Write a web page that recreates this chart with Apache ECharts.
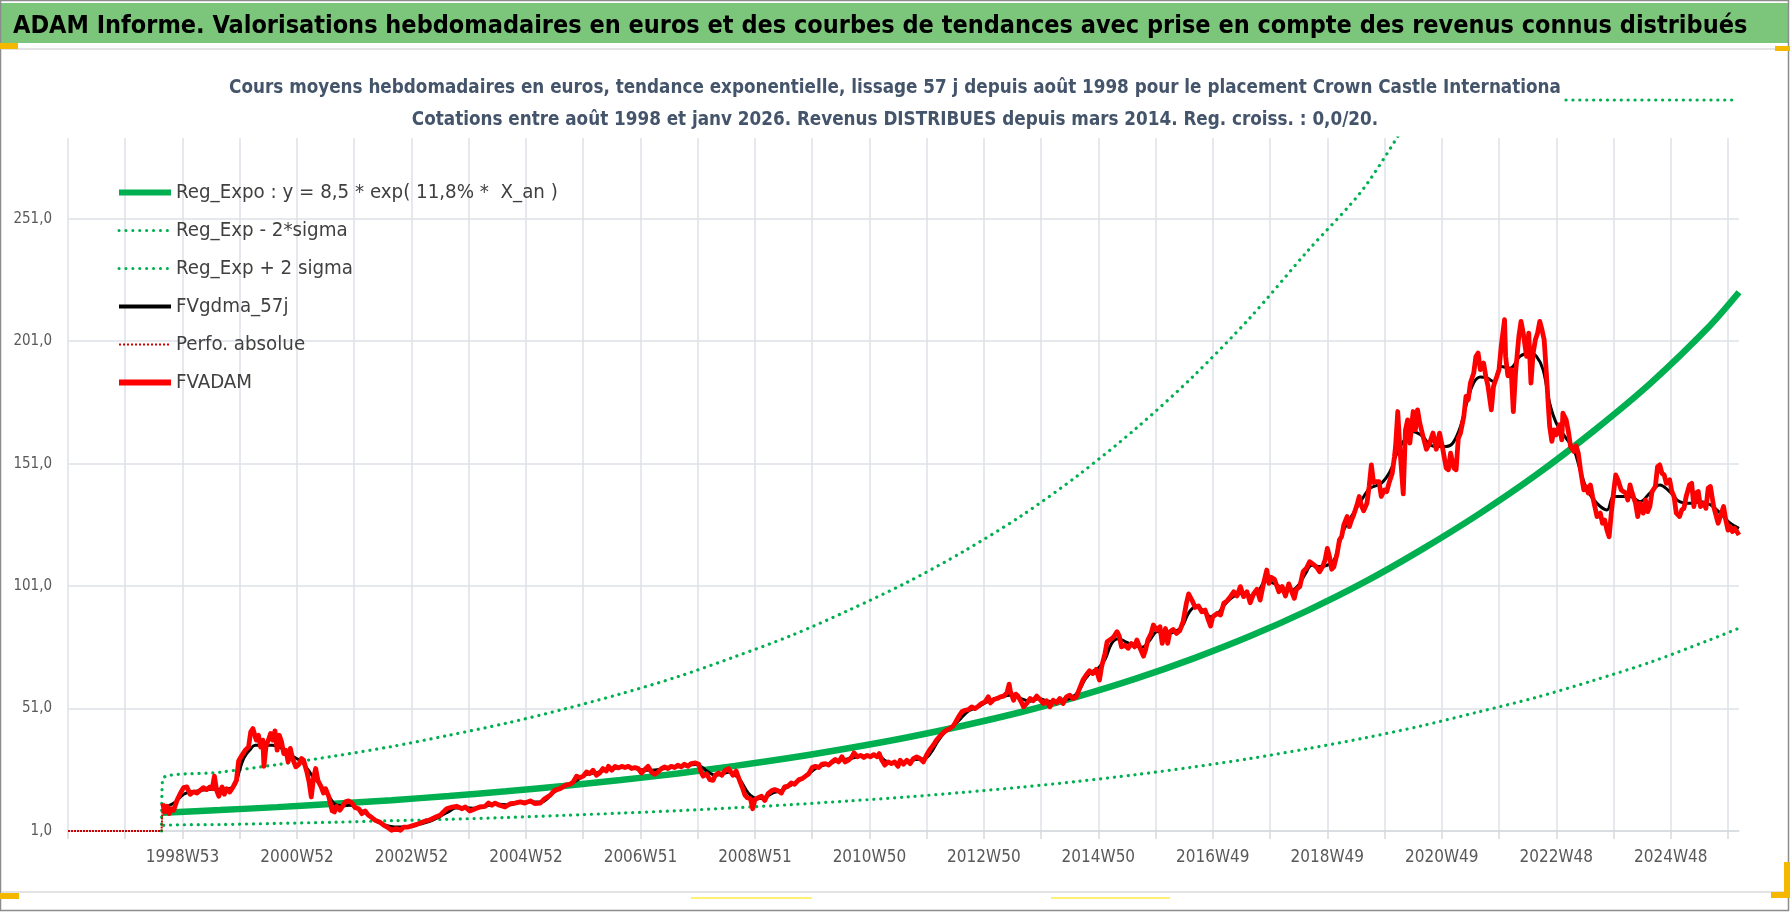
<!DOCTYPE html>
<html><head><meta charset="utf-8">
<script src="https://cdn.jsdelivr.net/npm/echarts@6/dist/echarts.min.js"></script>
<style>html,body{margin:0;padding:0;background:#fff}#c{width:1790px;height:912px}</style>
</head><body><div id="c"></div>
<script>
// ---- week categories (one per week, starting Thursday 2 Jan 1997) ----
const START_DATE = Date.UTC(1997, 0, 2);
const N_WEEKS = 1519;
function weekLabel(i) {
  const d = START_DATE + i * 7 * 86400000;
  const y = new Date(d).getUTCFullYear();
  const doy = Math.floor((d - Date.UTC(y, 0, 1)) / 86400000) + 1;
  return y + 'W' + (Math.floor((doy - 1) / 7) + 1);
}
const categories = Array.from({length: N_WEEKS}, (_, i) => weekLabel(i));
const yTickValues = [1, 51, 101, 151, 201, 251];

// ---- series: [week index, value] ----
const fvadam = [[86,12.2],[88,8.8],[90,11.1],[92,8.1],[94,10.1],[96,9.5],[99,13.5],[102,16.3],[105,18.7],[108,19.0],[111,16.0],[114,17.0],[117,16.5],[120,17.6],[123,18.7],[126,17.9],[129,19.0],[131,18.3],[133,23.4],[135,17.6],[137,15.2],[140,19.0],[142,16.0],[144,18.3],[147,16.9],[150,19.0],[153,21.7],[155,29.6],[158,31.9],[161,34.0],[164,35.3],[166,41.5],[168,42.8],[171,38.1],[173,40.1],[175,35.3],[177,38.1],[178,27.4],[180,36.0],[182,38.1],[184,40.8],[186,38.1],[188,41.9],[190,34.0],[192,40.1],[194,37.4],[196,32.6],[198,34.0],[200,29.2],[202,34.7],[204,30.6],[207,27.2],[210,28.3],[212,30.6],[214,29.9],[217,25.1],[219,21.0],[221,14.9],[223,22.4],[225,26.5],[227,21.7],[230,19.0],[232,16.5],[234,18.3],[237,14.9],[240,9.2],[242,8.8],[244,11.1],[247,9.5],[249,10.8],[252,12.9],[255,13.3],[258,12.4],[261,10.5],[264,10.1],[267,8.1],[270,9.2],[273,7.4],[276,6.5],[279,5.4],[283,4.7],[287,3.3],[290,2.6],[294,1.3],[298,2.0],[302,1.3],[305,2.6],[309,2.6],[314,3.3],[317,3.7],[320,4.3],[324,5.0],[329,5.6],[333,6.5],
[338,7.4],[341,8.8],[344,10.1],[349,10.8],[353,11.1],[358,10.1],[361,10.8],[365,9.2],[370,10.1],[374,10.8],[379,11.1],[382,12.4],[385,11.5],[388,12.4],[392,11.5],[397,10.8],[402,12.2],[406,12.4],[411,12.9],[415,12.4],[420,13.3],[424,12.2],[429,12.4],[433,14.2],[438,15.6],[442,17.6],[447,18.3],[452,19.7],[456,20.1],[459,21.0],[462,23.4],[465,22.8],[468,23.4],[471,25.1],[474,24.4],[477,25.8],[480,23.8],[483,24.7],[486,26.5],[489,25.5],[491,27.4],[494,25.8],[497,27.4],[500,26.8],[503,27.4],[506,26.9],[509,27.4],[512,26.5],[515,26.9],[518,26.5],[521,24.7],[524,26.1],[527,27.4],[530,25.1],[533,24.2],[536,25.1],[539,26.5],[542,27.2],[545,26.5],[548,27.4],[551,26.9],[554,27.9],[557,27.2],[560,28.3],[563,27.4],[566,28.5],[570,28.8],[573,28.3],[575,25.1],[577,23.4],[580,24.4],[583,22.0],[586,21.7],[588,23.8],[591,24.7],[594,23.8],[597,25.8],[600,26.5],
[604,23.8],[607,25.5],[610,21.7],[613,18.3],[615,15.6],[617,14.6],[620,14.2],[622,10.1],[624,13.8],[627,14.6],[630,15.2],[633,13.5],[636,16.3],[639,17.4],[642,17.9],[645,17.4],[648,16.5],[651,19.0],[654,19.3],[657,20.6],[660,20.1],[664,22.0],[667,22.4],[670,23.4],[673,24.4],[676,26.9],[679,27.4],[682,26.9],[685,28.3],[688,28.5],[691,27.9],[694,29.2],[697,30.2],[700,29.2],[703,31.3],[706,29.2],[709,29.9],[712,31.3],[714,32.9],[717,31.3],[720,31.9],[723,31.0],[726,31.9],[729,31.3],[732,32.2],[735,31.3],[737,32.6],[739,30.2],[742,27.9],[745,29.2],[748,28.5],[751,29.2],[754,27.4],[756,29.9],[759,28.3],[762,29.9],[765,28.5],[768,30.6],[771,31.3],[774,30.6],[777,29.2],[780,32.0],[783,34.3],[786,36.0],[789,38.1],[792,39.7],[795,41.1],[798,42.2],[801,42.8],[804,43.8],[806,45.2],[809,47.6],[812,49.7],[815,50.3],[818,50.6],[821,51.7],[824,51.0],[827,52.0],[830,53.1],[833,53.7],[836,55.8],[838,53.3],[841,54.7],[844,55.1],[847,55.8],[850,56.1],[853,57.4],[855,61.0],[856,58.3],[859,54.4],[861,56.9],[863,56.1],
[866,53.7],[868,51.7],[871,53.1],[874,55.1],[877,54.2],[880,56.1],[883,54.7],[886,53.1],[889,54.2],[892,51.7],[895,54.4],[898,53.3],[901,55.1],[904,53.1],[907,55.8],[910,56.5],[913,55.1],[916,55.8],[919,59.2],[922,62.6],[925,64.7],[928,66.4],[931,65.3],[934,67.0],[937,62.6],[939,68.1],[942,73.5],[944,78.3],[947,79.2],[950,80.3],[953,82.4],[955,80.6],[957,76.2],[960,76.9],[963,75.6],[966,77.6],[969,76.2],[971,79.0],[974,75.6],[977,72.4],[979,75.1],[981,79.0],[984,81.7],[986,85.1],[989,83.1],[992,84.4],[994,77.6],[997,83.7],[999,77.6],[1001,82.4],[1004,83.3],[1007,81.7],[1010,82.8],[1013,86.5],[1016,94.0],[1018,97.8],[1021,95.3],[1024,92.3],[1027,92.9],[1030,90.5],[1033,91.2],[1036,87.1],[1038,84.7],[1040,88.5],[1044,89.9],[1047,89.2],[1050,94.0],[1053,95.0],[1056,96.7],[1059,98.7],[1062,97.0],[1065,100.8],[1068,96.7],[1071,98.7],[1074,94.2],[1077,97.8],[1080,99.7],[1083,95.3],[1086,101.9],[1089,107.6],[1091,102.1],[1093,104.6],[1096,103.8],[1100,98.7],[1103,100.8],[1106,97.0],[1109,101.9],[1112,98.3],[1114,96.0],[1116,99.7],[1119,100.8],[1122,106.9],[1125,108.3],
[1128,111.0],[1131,110.0],[1134,108.9],[1137,106.9],[1140,109.2],[1142,111.7],[1144,116.4],[1146,113.0],[1148,107.9],[1150,108.9],[1153,114.4],[1155,119.9],[1157,121.2],[1159,126.0],[1162,129.4],[1164,125.3],[1166,128.0],[1168,130.1],[1171,134.2],[1173,137.6],[1175,133.8],[1177,131.8],[1180,134.8],[1182,141.7],[1184,150.5],[1186,143.3],[1189,143.7],[1191,143.7],[1193,137.6],[1196,140.3],[1198,139.6],[1200,143.0],[1203,147.1],[1205,153.9],[1206,158.0],[1208,172.3],[1210,156.7],[1213,138.7],[1215,164.8],[1217,168.9],[1219,159.4],[1222,172.3],[1224,164.8],[1226,173.0],[1228,167.6],[1231,162.1],[1234,156.9],[1237,159.4],[1240,163.5],[1243,156.9],[1246,163.5],[1249,156.7],[1252,149.2],[1254,148.5],[1256,155.3],[1259,149.2],[1261,148.5],[1263,161.4],[1265,163.5],[1268,170.3],[1270,178.5],[1272,177.1],[1274,183.9],[1277,188.0],[1279,194.8],[1281,196.2],[1283,189.4],[1286,192.1],[1288,186.6],[1290,182.6],[1293,173.0],[1295,182.6],[1298,186.6],[1300,189.4],[1302,199.0],[1305,209.8],[1306,194.8],[1308,186.9],[1311,189.4],[1313,172.3],[1315,188.0],[1318,203.0],[1320,209.1],[1322,204.3],[1325,194.8],[1327,204.3],[1329,183.9],[1331,196.2],[1333,201.6],[1335,204.3],[1337,209.1],[1339,205.7],[1341,201.6],[1343,188.0],
[1345,173.0],[1346,166.2],[1348,160.1],[1350,164.8],[1352,162.8],[1355,166.9],[1357,160.7],[1358,171.6],[1361,168.9],[1363,164.2],[1365,158.0],[1368,156.0],[1370,158.3],[1372,155.3],[1374,148.5],[1377,140.3],[1379,141.7],[1381,139.0],[1383,142.3],[1385,137.6],[1387,133.5],[1389,129.4],[1392,130.8],[1394,126.7],[1396,128.0],[1398,123.9],[1400,121.2],[1402,130.8],[1404,139.0],[1406,146.4],[1408,144.4],[1411,140.3],[1413,139.6],[1415,139.0],[1417,136.2],[1419,142.3],[1421,139.0],[1424,134.8],[1426,129.4],[1428,134.8],[1431,130.8],[1433,136.2],[1435,131.4],[1437,133.5],[1439,139.6],[1442,141.7],[1444,149.8],[1446,150.5],[1448,147.1],[1450,146.4],[1452,143.0],[1455,144.4],[1457,139.6],[1459,137.6],[1461,130.8],[1464,129.4],[1466,132.1],[1468,132.8],[1470,137.6],[1473,142.3],[1475,143.0],[1477,133.5],[1479,139.0],[1481,139.6],[1483,133.5],[1486,134.8],[1488,132.8],[1490,141.0],[1492,141.7],[1495,133.5],[1497,130.1],[1499,126.7],[1501,129.4],[1504,133.5],[1506,128.0],[1508,123.9],[1510,125.3],[1512,123.3],[1514,124.6],[1516,123.3],[1518,121.9]];

const fvgdma57 = [[86,11],[92,11.5],[98,13],[105,16],[112,17],[120,17.5],[130,18],[140,18],[148,18.5],[152,20],[156,26],[160,31],[165,34],[170,36],[178,36],[186,36],[193,35],[200,33],[206,31],[212,29.5],[218,26],[223,23],[228,20.5],[233,17.5],[238,14.5],[243,11.8],[250,11.3],[256,11.5],[262,10.5],[268,9],[274,7],[280,5],[286,3.8],[292,3],[300,2.6],[308,2.6],[314,3.1],[320,3.8],[328,4.8],[335,6.2],[341,7.8],[347,9.2],[352,10.4],[360,10.5],[370,10.3],[380,11.2],[390,12],[400,11.6],[410,12.6],[420,12.8],[430,12.8],[436,14.5],[442,17],[450,19],[458,20.5],[465,22.5],[472,24.2],[480,24.8],[490,26],[500,26.8],[510,27],[520,26],[530,25.8],[540,26.3],[550,27],[560,27.6],[570,28.2],[576,27],[582,25],[588,23.8],[594,24.2],[600,25],[605,24],[610,22.3],[615,18.5],[620,15.5],[626,14.2],[632,14.5],[640,16.5],[648,17.5],[656,19.5],[664,21.5],[672,24],[680,26.8],[690,28.3],[700,29.8],[710,30.5],[720,31.5],[730,31.8],[737,31.5],[743,29.5],[750,28.6],[760,28.8],[770,30.2],[778,30.5],[784,33],[790,37.5],[796,41],[802,43],[810,46.5],[818,50],[826,51.5],[834,53.5],[842,55],[850,56],[858,56.5],[866,55],[874,54],[882,55],[890,54],[898,53.8],[906,54.5],[912,55.5],[918,58],[924,63],[930,66],[936,67.5],[942,71],[948,77.5],[954,79.5],[962,78],[970,76.5],[976,76],[982,78.5],[990,82.5],[998,81.5],[1006,82.5],[1012,84.5],[1018,90],[1024,92.5],[1032,91],[1038,88.5],[1044,89.5],[1050,93],[1058,96.5],[1066,98],[1074,97],[1082,99.5],[1088,103],[1096,102],[1104,100],[1112,99.5],[1118,101.5],[1124,106],[1130,109.5],[1137,109],[1149,111],[1154,117],[1159,124],[1168,131],[1177,137.5],[1183,141],[1193,143],[1201,147.8],[1207,155],[1213,160],[1222,164],[1231,162],[1237,158.7],[1246,158],[1252,158],[1258,159.4],[1265,166.2],[1271,176.4],[1277,184],[1283,186.4],[1289,186],[1295,184.6],[1302,190.7],[1310,190],[1319,194.8],[1328,196.2],[1334,194.8],[1340,189.4],[1346,175.7],[1352,167.6],[1360,162],[1368,156.6],[1374,148],[1380,140.3],[1389,134.8],[1398,132.1],[1404,137.6],[1410,137.6],[1419,137.6],[1428,135.5],[1437,139],[1446,142.3],[1455,139.6],[1464,135.5],[1474,134.8],[1483,135.5],[1492,134.2],[1501,130.8],[1510,126.7],[1518,124.6]];

const regExpo = [[86,8.5],[138,9.56],[190,10.75],[242,12.1],[294,13.6],[346,15.3],[398,17.2],[450,19.4],[502,21.8],[554,24.5],[606,27.6],[658,31.0],[710,34.9],[762,39.2],[814,44.1],[866,49.6],[918,56.0],[970,63.2],[1022,71.4],[1074,80.6],[1126,91.0],[1178,102.7],[1230,116.0],[1282,130.5],[1334,146.5],[1386,164.4],[1438,184.0],[1490,206.6],[1518,221.0]];
const regMinus2Sigma = [[85,1],[86,3.3],[138,3.65],[190,4.1],[242,4.6],[294,5.2],[346,5.8],[398,6.5],[450,7.4],[502,8.3],[554,9.3],[606,10.5],[658,11.8],[710,13.3],[762,14.9],[814,16.8],[866,18.9],[918,21.3],[970,24.0],[1022,27.1],[1074,30.6],[1126,34.6],[1178,39.0],[1230,44.0],[1282,49.7],[1334,55.6],[1386,62.5],[1438,70.0],[1490,78.8],[1518,83.8]];
const regPlus2Sigma = [[85,1],[86,22.3],[138,25.0],[190,28.1],[242,31.6],[294,35.5],[346,40.1],[398,45.0],[450,50.7],[502,57.0],[554,64.0],[606,72.2],[658,81.0],[710,91.3],[762,102.5],[814,115.3],[866,129.7],[918,146.4],[970,165.3],[1022,186.6],[1074,210.7],[1126,237.8],[1178,264.0],[1230,301.0]];
const perfoAbsolue = [[0,1],[85,1],[86,12.2]];

const seriesNames = ['Reg_Expo : y = 8,5 * exp( 11,8% *  X_an )', 'Reg_Exp - 2*sigma', 'Reg_Exp + 2 sigma', 'FVgdma_57j', 'Perfo. absolue', 'FVADAM'];

const FONT = "'DejaVu Sans Condensed','Liberation Sans',sans-serif";
const GREEN = '#00b050';
const DOT = [0.1, 6.8];
const GRID = '#dde1e7';

const chart = echarts.init(document.getElementById('c'), null, {renderer: 'canvas'});
chart.setOption({
  animation: false,
  backgroundColor: '#ffffff',
  graphic: [
    {type: 'rect', z: -10, shape: {x: 1, y: 3, width: 1788, height: 40}, style: {fill: '#7cc67c'}},
    {type: 'rect', z: -10, shape: {x: 0.5, y: 0.5, width: 1788, height: 910}, style: {fill: null, stroke: '#8c8c8c', lineWidth: 1.5}},
    {type: 'line', z: -10, shape: {x1: 1, y1: 49, x2: 1789, y2: 49}, style: {stroke: '#e3e3e3', lineWidth: 2}},
    {type: 'line', z: -10, shape: {x1: 1, y1: 892, x2: 1789, y2: 892}, style: {stroke: '#e3e3e3', lineWidth: 2}},
    {type: 'rect', z: 10, shape: {x: 0, y: 43, width: 18, height: 6}, style: {fill: '#f5b800'}},
    {type: 'rect', z: 10, shape: {x: 0, y: 893, width: 19, height: 6}, style: {fill: '#f5b800'}},
    {type: 'rect', z: 10, shape: {x: 1771, y: 892, width: 19, height: 6}, style: {fill: '#f5b800'}},
    {type: 'rect', z: 10, shape: {x: 1784, y: 862, width: 6, height: 36}, style: {fill: '#f5b800'}},
    {type: 'rect', z: 10, shape: {x: 1775, y: 46, width: 15, height: 5}, style: {fill: '#f5b800'}},
    {type: 'rect', z: 10, shape: {x: 691, y: 897, width: 121, height: 2}, style: {fill: '#fff176'}},
    {type: 'rect', z: 10, shape: {x: 1051, y: 897, width: 119, height: 2}, style: {fill: '#fff176'}},
    {type: 'line', z: 10, shape: {x1: 1566, y1: 100, x2: 1738, y2: 100}, style: {stroke: GREEN, lineWidth: 3.2, lineDash: DOT, lineCap: 'round'}}
  ],
  title: [
    {text: 'ADAM Informe. Valorisations hebdomadaires en euros et des courbes de tendances avec prise en compte des revenus connus distribués',
     left: 8, top: 9, textStyle: {fontSize: 25, fontWeight: 'bold', color: '#000000', fontFamily: FONT}},
    {text: 'Cours moyens hebdomadaires en euros, tendance exponentielle, lissage 57 j depuis août 1998 pour le placement Crown Castle Internationa',
     left: 'center', top: 74, textStyle: {fontSize: 18.7, fontWeight: 'bold', color: '#44546a', fontFamily: FONT}},
    {text: 'Cotations entre août 1998 et janv 2026. Revenus DISTRIBUES depuis mars 2014. Reg. croiss. : 0,0/20.',
     left: 'center', top: 106, textStyle: {fontSize: 18.7, fontWeight: 'bold', color: '#44546a', fontFamily: FONT}}
  ],
  legend: {
    orient: 'vertical', left: 111, top: 175.5, itemWidth: 52, itemHeight: 12, itemGap: 14,
    itemStyle: {opacity: 0},
    textStyle: {fontSize: 20.3, lineHeight: 24, color: '#404040', fontFamily: FONT},
    data: [
      {name: seriesNames[0], lineStyle: {width: 6, type: 'solid'}},
      {name: seriesNames[1], lineStyle: {width: 3, type: DOT, cap: 'round'}},
      {name: seriesNames[2], lineStyle: {width: 3, type: DOT, cap: 'round'}},
      {name: seriesNames[3], lineStyle: {width: 4, type: 'solid'}},
      {name: seriesNames[4], lineStyle: {width: 2, type: [2, 2]}},
      {name: seriesNames[5], lineStyle: {width: 6, type: 'solid'}}
    ]
  },
  grid: {left: 68, right: 51, top: 138, bottom: 81, containLabel: false, outerBoundsMode: 'none'},
  xAxis: {
    type: 'category', data: categories, boundaryGap: false,
    axisLine: {show: true, lineStyle: {color: '#d6d9de', width: 1.5}},
    axisTick: {show: true, interval: (i) => i % 52 === 0, length: 8, lineStyle: {color: '#d6d9de', width: 1.5}},
    axisLabel: {interval: (i) => i > 0 && i % 104 === 0, margin: 18, fontSize: 17, color: '#595959', fontFamily: FONT},
    splitLine: {show: true, interval: (i) => i % 52 === 0, lineStyle: {color: GRID, width: 1.5}}
  },
  yAxis: {
    type: 'value', min: 1, max: 284,
    axisLine: {show: false},
    axisTick: {show: false, customValues: yTickValues},
    axisLabel: {customValues: yTickValues, margin: 16, fontSize: 15, color: '#595959', fontFamily: FONT,
      formatter: (v) => v.toFixed(1).replace('.', ',')},
    splitLine: {show: true, lineStyle: {color: GRID, width: 1.5}}
  },
  series: [
    {name: seriesNames[0], type: 'line', data: regExpo, symbol: 'none', smooth: 0.3, z: 2,
     lineStyle: {color: GREEN, width: 6.5}, itemStyle: {color: GREEN}},
    {name: seriesNames[1], type: 'line', data: regMinus2Sigma, symbol: 'none', smooth: 0.3, z: 2,
     lineStyle: {color: GREEN, width: 3.2, type: DOT, cap: 'round'}, itemStyle: {color: GREEN}},
    {name: seriesNames[2], type: 'line', data: regPlus2Sigma, symbol: 'none', smooth: 0.3, z: 2,
     lineStyle: {color: GREEN, width: 3.2, type: DOT, cap: 'round'}, itemStyle: {color: GREEN}},
    {name: seriesNames[3], type: 'line', data: fvgdma57, symbol: 'none', smooth: 0.4, z: 3,
     lineStyle: {color: '#000000', width: 3}, itemStyle: {color: '#000000'}},
    {name: seriesNames[4], type: 'line', data: perfoAbsolue, symbol: 'none', z: 3,
     lineStyle: {color: '#d00000', width: 2, type: [2, 1]}, itemStyle: {color: '#e00000'}},
    {name: seriesNames[5], type: 'line', data: fvadam, symbol: 'none', z: 4,
     lineStyle: {color: '#ff0000', width: 4.8, join: 'round'}, itemStyle: {color: '#ff0000'}}
  ]
});
</script>
</body></html>
